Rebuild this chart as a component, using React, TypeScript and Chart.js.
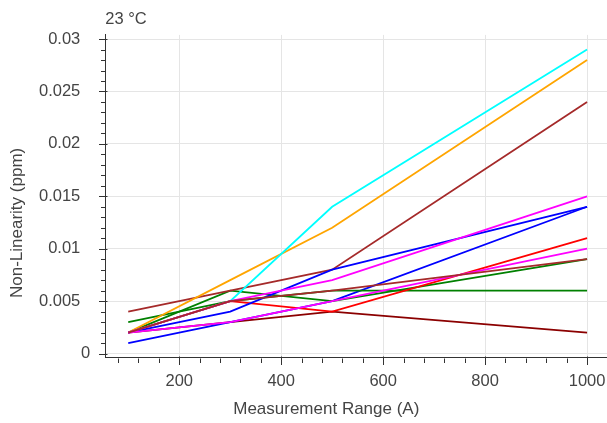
import React, { useEffect, useRef } from "react";
import { Chart, registerables } from "chart.js";

Chart.register(...registerables);

const RANGES = [100, 300, 500, 1000];

const CYAN = [0.002, 0.005, 0.014, 0.029];
const ORANGE = [0.002, 0.007, 0.012, 0.028];
const BROWN_A = [0.004, 0.006, 0.008, 0.024];
const MAGENTA_A = [0.002, 0.005, 0.007, 0.015];
const BLUE_A = [0.002, 0.004, 0.008, 0.014];
const BLUE_B = [0.001, 0.003, 0.005, 0.014];
const RED = [0.002, 0.005, 0.004, 0.011];
const MAGENTA_B = [0.002, 0.003, 0.005, 0.01];
const BROWN_B = [0.002, 0.005, 0.006, 0.009];
const GREEN_A = [0.002, 0.006, 0.005, 0.009];
const GREEN_B = [0.003, 0.005, 0.006, 0.006];
const DARKRED = [0.002, 0.003, 0.004, 0.002];

const X_TICKS = [200, 400, 600, 800, 1000];
const Y_TICKS = [0, 0.005, 0.01, 0.015, 0.02, 0.025, 0.03];

const X_TITLE = "Measurement Range (A)";
const Y_TITLE = "Non-Linearity (ppm)";

const FONT = "'Liberation Sans', Arial, Helvetica, sans-serif";
const TEXT = "#444444";
const AXIS = "#333333";
const GRID = "#e5e5e5";

const series: [number[], string][] = [
  [BROWN_B, "#a52a2a"],
  [MAGENTA_B, "#ff00ff"],
  [MAGENTA_A, "#ff00ff"],
  [BLUE_A, "#0000ff"],
  [RED, "#ff0000"],
  [CYAN, "#00ffff"],
  [ORANGE, "#ffa500"],
  [BROWN_A, "#a52a2a"],
  [GREEN_A, "#008000"],
  [GREEN_B, "#008000"],
  [BLUE_B, "#0000ff"],
  [DARKRED, "#8b0000"],
];

const fmtY = (v: number) => String(Number(Number(v).toFixed(4)));

const tickPlugin = {
  id: "bokehTicks",
  afterDraw(chart: any) {
    const { ctx, chartArea, scales } = chart;
    const xs = scales.x;
    const ys = scales.y;
    ctx.save();
    ctx.strokeStyle = AXIS;
    ctx.lineWidth = 1;
    ctx.beginPath();
    const bottom = Math.round(chartArea.bottom) + 0.5;
    const left = Math.round(chartArea.left) + 0.5;
    for (let v = Math.ceil(xs.min / 40) * 40; v <= xs.max; v += 40) {
      const px = Math.round(xs.getPixelForValue(v)) + 0.5;
      if (X_TICKS.includes(v)) {
        ctx.moveTo(px, bottom - 2);
        ctx.lineTo(px, bottom + 6.5);
      } else {
        ctx.moveTo(px, bottom);
        ctx.lineTo(px, bottom + 4.5);
      }
    }
    for (let i = Math.ceil(ys.min / 0.001); i * 0.001 <= ys.max + 1e-9; i++) {
      const v = i * 0.001;
      const py = Math.round(ys.getPixelForValue(v)) + 0.5;
      if (i % 5 === 0) {
        ctx.moveTo(left - 6.5, py);
        ctx.lineTo(left + 2, py);
      } else {
        ctx.moveTo(left - 4.5, py);
        ctx.lineTo(left, py);
      }
    }
    ctx.stroke();

    ctx.fillStyle = TEXT;
    // the zero label sits closer to the axis in the reference
    ctx.font = `16.5px ${FONT}`;
    ctx.textAlign = "right";
    ctx.textBaseline = "middle";
    ctx.fillText(fmtY(Y_TICKS[0]), chartArea.left - 15, ys.getPixelForValue(Y_TICKS[0]));

    // axis titles
    ctx.font = `17px ${FONT}`;
    ctx.textAlign = "center";
    ctx.fillText(X_TITLE, chartArea.left + 221, chartArea.bottom + 52);
    ctx.translate(17.5, chartArea.top + 188);
    ctx.rotate(-Math.PI / 2);
    ctx.fillText(Y_TITLE, 0, 0);
    ctx.restore();
  },
};

export default function App() {
  const ref = useRef<HTMLCanvasElement | null>(null);
  useEffect(() => {
    if (!ref.current) return;
    const chart = new Chart(ref.current, {
      type: "line",
      data: {
        datasets: series.map(([vals, color]) => ({
          data: RANGES.map((x, i) => ({ x, y: vals[i] })),
          borderColor: color,
          backgroundColor: color,
          borderWidth: 1.8,
          pointRadius: 0,
          tension: 0,
          fill: false,
        })),
      },
      options: {
        animation: false,
        responsive: false,
        devicePixelRatio: 1,
        layout: { padding: { left: 0, right: 10, top: 0, bottom: 0 } },
        plugins: {
          legend: { display: false },
          tooltip: { enabled: false },
          title: {
            display: true,
            text: "23 °C",
            align: "start",
            fullSize: false,
            color: TEXT,
            font: { family: FONT, size: 16.5, weight: "normal" },
            padding: { top: 8.4, bottom: 5.1 },
          },
        },
        scales: {
          x: {
            type: "linear",
            min: 55,
            max: 1045,
            afterFit: (s: any) => {
              s.height = 65.3;
            },
            afterBuildTicks: (s: any) => {
              s.ticks = X_TICKS.map((v) => ({ value: v }));
            },
            ticks: {
              color: TEXT,
              font: { family: FONT, size: 16.5 },
              padding: 14,
              maxRotation: 0,
              autoSkip: false,
              callback: (v: any) => String(v),
            },
            grid: { color: GRID, drawTicks: false, lineWidth: 1 },
            border: { display: true, color: AXIS, width: 1 },
            title: { display: false },
          },
          y: {
            type: "linear",
            min: -0.0004,
            max: 0.0304,
            afterFit: (s: any) => {
              s.width = 105.3;
            },
            afterBuildTicks: (s: any) => {
              s.ticks = Y_TICKS.map((v) => ({ value: v }));
            },
            ticks: {
              color: TEXT,
              font: { family: FONT, size: 16.5 },
              padding: 25,
              autoSkip: false,
              callback: (v: any) => (Number(v) === 0 ? "" : fmtY(v)),
            },
            grid: { color: GRID, drawTicks: false, lineWidth: 1 },
            border: { display: true, color: AXIS, width: 1 },
            title: { display: false },
          },
        },
      },
      plugins: [tickPlugin],
    } as any);
    return () => chart.destroy();
  }, []);
  return (
    <div
      style={{
        position: "fixed",
        left: 0,
        top: 0,
        width: 607,
        height: 423,
        overflow: "hidden",
        background: "#fff",
      }}
    >
      <canvas ref={ref} width={620} height={423} style={{ display: "block" }} />
    </div>
  );
}
